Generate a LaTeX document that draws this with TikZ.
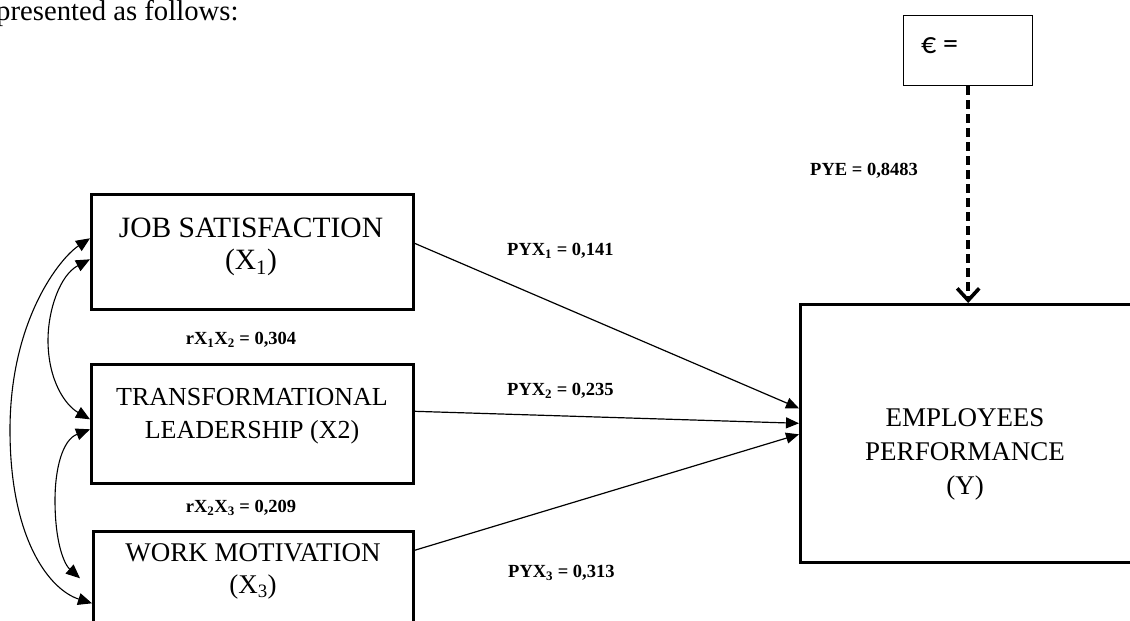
\documentclass[tikz,border=0pt]{standalone}
\usepackage{fontspec}
\setmainfont{Liberation Serif}
\newfontfamily\calib{Carlito}
\usetikzlibrary{arrows.meta,calc}
\begin{document}
\begin{tikzpicture}[x=1pt,y=-1pt,
  box/.style={draw, line width=2.6pt, inner sep=0pt, anchor=north west},
  boxtext/.style={align=center, inner sep=0pt, font=\fontsize{27}{32}\selectfont},
  coef/.style={font=\bfseries\fontsize{18.5}{20}\selectfont, inner sep=0pt},
  pathar/.style={line width=1.2pt, -{Triangle[length=13pt,width=11pt]}},
  corr/.style={line width=1.1pt, {Triangle[length=14pt,width=12pt]}-{Triangle[length=14pt,width=12pt]}},
]
\useasboundingbox (0,0) rectangle (1130,621);
\clip (0,0) rectangle (1130,621);

\node[font=\fontsize{28.7}{30}\selectfont, anchor=base west, inner sep=0pt] (intro) at (-4,20) {presented as follows:};

% boxes
\node[box, minimum width=322pt, minimum height=115pt] (js) at (90,193) {};
\node[box, minimum width=322pt, minimum height=119pt] (tl) at (90,363) {};
\node[box, minimum width=320pt, minimum height=120pt] (wm) at (92,530) {};
\node[box, minimum width=420pt, minimum height=258pt] (y) at (799,303) {};
\node[box, line width=1.4pt, minimum width=129pt, minimum height=70pt] (eps) at (903,15) {};

% box texts
\node[boxtext, font=\fontsize{29.5}{32}\selectfont] (js-t) at (251,247) {JOB SATISFACTION\\(X\textsubscript{1})};
\node[boxtext, font=\fontsize{26}{33}\selectfont] (tl-t) at (252,416) {TRANSFORMATIONAL\\LEADERSHIP (X2)};
\node[boxtext] (wm-t) at (253,571) {WORK MOTIVATION\\(X\textsubscript{3})};
\node[boxtext, font=\fontsize{27}{34}\selectfont] (y-t) at (965,454) {EMPLOYEES\\PERFORMANCE\\(Y)};
\node[font=\calib\fontsize{30}{32}\selectfont, anchor=west, inner sep=0pt] (eps-t) at (921,46) {€ =};

% coefficient labels
\node[coef, anchor=west] (pye) at (810,171) {PYE = 0,8483};
\node[coef, anchor=west] (p1) at (507,251) {PYX\textsubscript{1} = 0,141};
\node[coef, anchor=west] (p2) at (507,391) {PYX\textsubscript{2} = 0,235};
\node[coef, anchor=west] (p3) at (508,573) {PYX\textsubscript{3} = 0,313};
\node[coef] (r12) at (241,340) {rX\textsubscript{1}X\textsubscript{2} = 0,304};
\node[coef] (r23) at (241,508) {rX\textsubscript{2}X\textsubscript{3} = 0,209};

% paths
\draw[pathar] ([yshift=8.5pt]js.east) -- ([yshift=25pt]y.west);
\draw[pathar] ([yshift=12.5pt]tl.east) -- ([yshift=10pt]y.west);
\draw[pathar] ([yshift=41pt]wm.east) -- ([yshift=-1pt]y.west);

% error term
\draw[line width=3.6pt, dash pattern=on 9pt off 5pt, -{Straight Barb[length=12pt,width=22pt]}] (eps.south) -- (eps.south |- y.north);

% correlations
\draw[corr] ([yshift=13.5pt]js.west) .. controls (60,258) and (10,320) .. (10,430) .. controls (10,540) and (50,590) .. ([yshift=-12pt]wm.west);
\draw[corr] ([yshift=-7.5pt]js.west) .. controls (60,275) and (48,310) .. (48,340) .. controls (48,380) and (65,405) .. ([yshift=4.5pt]tl.west);
\draw[corr] ([yshift=-5.5pt]tl.west) .. controls (62,440) and (55,470) .. (55,500) .. controls (55,545) and (65,565) .. ([xshift=-12pt,yshift=13pt]wm.west);
\end{tikzpicture}
\end{document}
